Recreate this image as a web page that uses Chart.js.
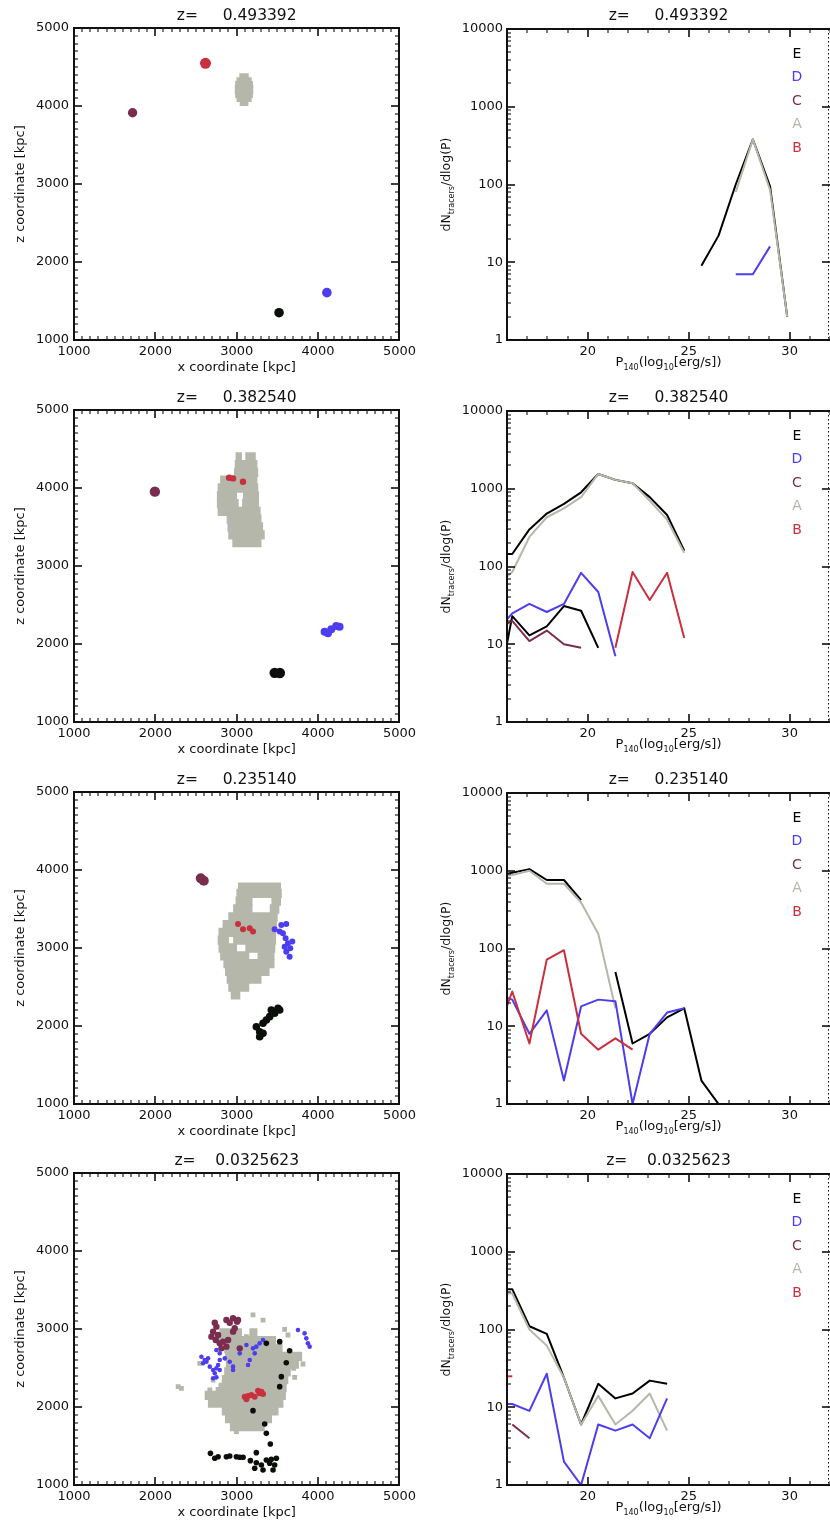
<!DOCTYPE html>
<html>
<head>
<meta charset="utf-8">
<title>Tracer clouds and radio power distributions</title>
<script src="https://cdn.jsdelivr.net/npm/chart.js@4.4.1/dist/chart.umd.min.js"></script>
<style>
  body { margin: 0; background: #fff; }
  #page { position: relative; width: 830px; height: 1527px; overflow: hidden; }
  canvas { position: absolute; }
</style>
</head>
<body>
<div id="page"></div>
<script>
const _ = null;

// one row per redshift snapshot
const rowTitles = ['z=     0.493392', 'z=     0.382540', 'z=     0.235140', 'z=    0.0325623'];
const legendNames = ['E', 'D', 'C', 'A', 'B'];

// ---- left column: tracer positions (x, z) in kpc
const mapTicks = [1000, 2000, 3000, 4000, 5000];

// A cloud, stored as horizontal runs: [z, x from, x to]
const mapA = [
  [[4060, 3041, 3139], [4110, 3002, 3178], [4160, 2985, 3195], [4210, 2980, 3200], [4260, 2985, 3195],
   [4310, 3000, 3180], [4360, 3036, 3144]],
  [[4400, 2990, 3060], [4400, 3110, 3230], [4300, 2980, 3250], [4200, 2970, 3260], [4100, 2800, 3250],
   [4000, 2770, 3260], [3900, 2760, 3000], [3900, 3080, 3270], [3800, 2760, 3020], [3800, 3070, 3270],
   [3700, 2770, 3290], [3600, 2880, 3300], [3500, 2890, 3320], [3400, 2900, 3340], [3300, 2950, 3300]],
  [[3780, 3020, 3540], [3700, 3000, 3550], [3600, 2990, 3190], [3600, 3430, 3540], [3500, 2960, 3190],
   [3500, 3410, 3520], [3400, 2900, 3500], [3300, 2830, 3490], [3200, 2780, 3480], [3100, 2770, 2900],
   [3100, 2960, 3480], [3000, 2780, 3000], [3000, 3110, 3470], [2900, 2800, 3150], [2900, 3260, 3460],
   [2800, 2840, 3460], [2700, 2860, 3400], [2600, 2880, 3300], [2500, 2900, 3150], [2400, 2930, 3040]],
  [[2950, 2790, 3060], [2950, 3160, 3250], [2850, 2760, 3480], [2750, 2850, 3560], [2650, 2860, 3800],
   [2550, 2870, 3760], [2450, 2850, 3660], [2350, 2820, 3630], [2250, 2780, 3610], [2150, 2610, 3600],
   [2050, 2650, 3570], [1950, 2820, 3510], [1850, 2860, 3430], [1750, 2920, 3340]]
];
// loose A tracers outside the main cloud
const mapAloose = [
  [], [], [],
  [[3200, 3180], [3323, 3115], [3589, 2996], [3630, 2923], [3700, 2496], [3814, 2551], [3712, 2380],
   [2280, 2261], [2320, 2240], [2669, 2218], [2771, 2226], [2546, 2560], [2710, 2346], [2996, 1684], [3119, 2902]]
];
const mapB = [
  [[2616, 4547]],
  [[2906, 4132], [2955, 4123], [3077, 4081]],
  [[3016, 3308], [3077, 3240], [3159, 3252], [3200, 3210]],
  [[3098, 2132], [3139, 2141], [3180, 2154], [3221, 2132], [3119, 2098], [3262, 2209], [3303, 2197], [3323, 2167], [3282, 2175]]
];
const mapC = [
  [[1720, 3914]],
  [[1994, 3953]],
  [[2558, 3893], [2595, 3863]],
  [[2730, 3081], [2750, 3030], [2710, 2966], [2689, 2902], [2742, 2859], [2791, 2816], [2832, 2838], [2873, 3115],
   [2914, 3081], [2955, 3137], [3004, 3094], [2975, 3009], [2955, 2966], [3016, 3115], [2812, 2752], [2873, 2774],
   [3037, 2752], [2771, 2923], [2894, 2859]]
];
const mapD = [
  [[4108, 1607]],
  [[4080, 2158], [4121, 2137], [4162, 2188], [4223, 2231], [4264, 2222]],
  [[3466, 3240], [3548, 3295], [3609, 3308], [3568, 3189], [3601, 3124], [3630, 3060], [3683, 3082], [3658, 2996],
   [3609, 2953], [3650, 2889], [3589, 3017], [3528, 3210]],
  [[2566, 2645], [2607, 2603], [2648, 2624], [2587, 2560], [2628, 2581], [2669, 2517], [2710, 2474], [2750, 2496],
   [2771, 2538], [2730, 2432], [2791, 2474], [2750, 2380], [2710, 2368], [2914, 2581], [2955, 2517], [2791, 2603],
   [2853, 2624], [3037, 2688], [3119, 2795], [3200, 2752], [3241, 2774], [3282, 2816], [3323, 2859], [3221, 2688],
   [3160, 2603], [3139, 2538], [3753, 2987], [3834, 2944], [3855, 2880], [3875, 2816], [3896, 2774], [2955, 2474],
   [2750, 2731], [2791, 2688]]
];
const mapE = [
  [[3520, 1350]],
  [[3466, 1630], [3530, 1628]],
  [[3282, 1927], [3241, 1991], [3323, 2035], [3405, 2120], [3466, 2163], [3528, 2205], [3425, 2205], [3323, 1906],
   [3282, 1863], [3364, 2077], [3507, 2227]],
  [[3364, 2816], [3528, 2838], [3650, 2722], [3609, 2568], [3548, 2389], [3528, 2261], [3200, 1953], [3344, 1782],
   [3364, 1662], [3413, 1526], [3241, 1415], [2677, 1406], [2771, 1363], [2873, 1363], [2996, 1363], [3078, 1355],
   [3168, 1312], [3241, 1286], [3303, 1256], [3364, 1321], [3405, 1278], [3446, 1192], [3425, 1329], [3487, 1342],
   [3221, 1214], [3323, 1192], [2730, 1342], [2914, 1372], [3037, 1355], [3466, 1256]]
];

// ---- right column: dN_tracers/dlog(P) against P140 bins
const powerBins = [15.41, 16.26, 17.11, 17.97, 18.82, 19.67, 20.52, 21.37, 22.22, 23.07, 23.93, 24.78, 25.63, 26.48, 27.33, 28.18, 29.03, 29.88];
const powerTicks = [20, 25, 30];
const countTicks = [1, 10, 100, 1000, 10000];

const specAll = [
  [_, _, _, _, _, _, _, _, _, _, _, _, 9, 22, 100, 380, 95, 2],
  [145, 145, 300, 480, 640, 900, 1550, 1300, 1180, 780, 460, 160],
  [870, 940, 1050, 760, 760, 420, _, 50, 6, 8, 13, 17, 2, 1, 0.5],
  [330, 330, 110, 88, 24, 6, 20, 13, 15, 22, 20]
];
const specA = [
  [_, _, _, _, _, _, _, _, _, _, _, _, _, _, 80, 380, 85, 2],
  [55, 85, 240, 430, 560, 780, 1550, 1300, 1180, 700, 400, 150],
  [820, 880, 1000, 680, 680, 390, 155, 17],
  [300, 290, 100, 62, 24, 6, 14, 6, 9, 15, 5]
];
const specB = [
  [],
  [_, _, _, _, _, _, _, 9, 85, 37, 83, 12],
  [7, 28, 6, 72, 95, 8, 5, 7, 5],
  [25, 25]
];
const specC = [
  [],
  [15, 20, 11, 15, 10, 9],
  [],
  [_, 6, 4]
];
const specD = [
  [_, _, _, _, _, _, _, _, _, _, _, _, _, _, 7, 7, 16],
  [14, 25, 33, 26, 33, 83, 47, 7],
  [26, 22, 8, 16, 2, 18, 22, 21, 1, 8, 15, 17],
  [11, 11, 9, 27, 2, 1, 6, 5, 6, 4, 13]
];
const specE = [
  [],
  [1.6, 23, 13, 17, 31, 27, 9],
  [],
  []
];

// styles
const colors = { E: '#0a0f0a', D: '#4d3df0', C: '#7a2d4e', A: '#b5b7aa', B: '#c8303e' };
const dotRadius = [
  { B: 5.5, C: 4.7, D: 4.8, E: 4.8 },
  { B: 3.2, C: 5.2, D: 4, E: 5.2 },
  { B: 3, C: 5, D: 3, E: 3.8 },
  { B: 3, C: 3.2, D: 2.3, E: 2.8 }
];
const rowTop = [0, 382, 764, 1145];

Chart.defaults.font.family = '"DejaVu Sans", sans-serif';
Chart.defaults.color = '#111';

const page = document.getElementById('page');
function addCanvas(left, top, w, h) {
  const c = document.createElement('canvas');
  c.width = w; c.height = h;
  c.style.left = left + 'px'; c.style.top = top + 'px';
  c.style.width = w + 'px'; c.style.height = h + 'px';
  page.appendChild(c);
  return c;
}

// inward IDL style ticks and frame
function framePlugin(o) {
  return {
    id: 'frame' + Math.random().toString(36).slice(2),
    afterDraw(chart) {
      const { ctx, chartArea: a } = chart;
      const L = Math.round(a.left), R = Math.round(a.right), T = Math.round(a.top), B = Math.round(a.bottom);
      // tick positions along each side, as fractions of the axis span
      const fx = v => (v - o.xMin) / (o.xMax - o.xMin);
      const fy = v => o.yLog ? Math.log10(v / o.yMin) / Math.log10(o.yMax / o.yMin) : (v - o.yMin) / (o.yMax - o.yMin);
      ctx.save();
      ctx.fillStyle = '#111';
      const xt = (vals, len, w) => vals.forEach(v => {
        const p = Math.round(L + fx(v) * (R - L));
        ctx.fillRect(p - w / 2, B - len, w, len);
        ctx.fillRect(p - w / 2, T, w, len);
      });
      const yt = (vals, len, w, both) => vals.forEach(v => {
        const p = Math.round(B - fy(v) * (B - T));
        ctx.fillRect(L, p - w / 2, len, w);
        if (both) ctx.fillRect(R - len, p - w / 2, len, w);
      });
      xt(o.xMajor, 8, 1.6); xt(o.xMinor, 4, 1.1);
      yt(o.yMajor, 8, 1.6, true); yt(o.yMinor, 4, 1.1, o.rightMinor);
      // frame
      ctx.fillRect(L - 1, T - 1, R - L + 2, 2);
      ctx.fillRect(L - 1, B - 1, R - L + 2, 2);
      ctx.fillRect(L - 1, T - 1, 2, B - T + 2);
      if (o.dottedRight) {
        for (let y = T; y < B; y += 4) ctx.fillRect(R - 2, y, 1, 1.6);
      } else {
        ctx.fillRect(R - 1, T - 1, 2, B - T + 2);
      }
      ctx.restore();
    }
  };
}

function richText(ctx, parts, x, y, size, rotate) {
  ctx.save();
  ctx.translate(x, y);
  if (rotate) ctx.rotate(-Math.PI / 2);
  const main = size + 'px "DejaVu Sans"';
  const sub = Math.round(size * 0.65) + 'px "DejaVu Sans"';
  let w = 0;
  parts.forEach(p => { ctx.font = p[1] ? sub : main; w += ctx.measureText(p[0]).width; });
  let cx = -w / 2;
  ctx.textAlign = 'left';
  ctx.textBaseline = 'alphabetic';
  parts.forEach(p => {
    ctx.font = p[1] ? sub : main;
    ctx.fillText(p[0], cx, p[1] ? size * 0.68 : size * 0.36);
    cx += ctx.measureText(p[0]).width;
  });
  ctx.restore();
}

function textPlugin(o) {
  return {
    id: 'text' + Math.random().toString(36).slice(2),
    afterDraw(chart) {
      const { ctx, chartArea: a } = chart;
      ctx.save();
      ctx.fillStyle = '#111';
      ctx.textAlign = 'center';
      ctx.textBaseline = 'middle';
      ctx.font = '15.5px "DejaVu Sans"';
      ctx.fillText(o.title, (a.left + a.right) / 2, 16);
      if (o.legend) {
        ctx.font = '14px "DejaVu Sans"';
        legendNames.forEach((n, i) => {
          ctx.fillStyle = n === 'E' ? '#000' : colors[n];
          ctx.fillText(n, 377, a.top + 25 + i * 23.6);
        });
        ctx.fillStyle = '#111';
        richText(ctx, [['dN'], ['tracers', 1], ['/dlog(P)']], 25, (a.top + a.bottom) / 2, 12.5, true);
        richText(ctx, [['P'], ['140', 1], ['(log'], ['10', 1], ['[erg/s])']], (a.left + a.right) / 2, 361, 13, false);
      }
      ctx.restore();
    }
  };
}

function mapChart(r) {
  const canvas = addCanvas(0, rowTop[r], 420, 380);
  const dot = dotRadius[r];
  const cloud = (pts, color, radius, style) => ({
    type: 'scatter',
    data: pts.map(p => ({ x: p[0], y: p[1] })),
    backgroundColor: color, borderWidth: 0,
    pointRadius: radius, pointHoverRadius: radius, pointStyle: style || 'circle'
  });
  const minor = [];
  for (let v = 1000; v <= 5000; v += 100) if (v % 1000) minor.push(v);
  new Chart(canvas, {
    type: 'scatter',
    data: {
      datasets: [
        cloud(mapB[r], colors.B, dot.B),
        cloud(mapE[r], colors.E, dot.E),
        cloud(mapD[r], colors.D, dot.D),
        cloud(mapC[r], colors.C, dot.C),
        cloud(mapAloose[r], colors.A, 3.4, 'rect'),
        {
          type: 'bar', indexAxis: 'y',
          data: mapA[r].map(s => ({ y: s[0], x: [s[1], s[2]] })),
          backgroundColor: colors.A, borderWidth: 0, barThickness: 8.6
        }
      ]
    },
    options: {
      responsive: false, animation: false, devicePixelRatio: 1,
      layout: { padding: { top: 28, right: 20, left: 0, bottom: 0 } },
      plugins: { legend: { display: false }, tooltip: { enabled: false } },
      scales: {
        x: {
          type: 'linear', min: 1000, max: 5000, offset: false,
          grid: { display: false, drawTicks: false, offset: false }, border: { display: false },
          afterBuildTicks: s => { s.ticks = mapTicks.map(v => ({ value: v })); },
          afterFit: s => { s.height = 40; },
          ticks: { font: { size: 13 }, padding: 4, maxRotation: 0, autoSkip: false, callback: v => String(v) },
          title: { display: true, text: 'x coordinate [kpc]', font: { size: 13 }, padding: { top: 0, bottom: 5 } }
        },
        y: {
          type: 'linear', min: 1000, max: 5000, offset: false,
          grid: { display: false, drawTicks: false, offset: false }, border: { display: false },
          afterBuildTicks: s => { s.ticks = mapTicks.map(v => ({ value: v })); },
          afterFit: s => { s.width = 74; },
          ticks: { font: { size: 13 }, padding: 5, autoSkip: false, callback: v => String(v) },
          title: { display: true, text: 'z coordinate [kpc]', font: { size: 13 }, padding: { top: 13, bottom: 0 } }
        }
      }
    },
    plugins: [
      framePlugin({ xMin: 1000, xMax: 5000, yMin: 1000, yMax: 5000,
        xMajor: mapTicks, xMinor: minor, yMajor: mapTicks, yMinor: minor, rightMinor: true }),
      textPlugin({ title: rowTitles[r] })
    ]
  });
}

function specChart(r) {
  const canvas = addCanvas(420, rowTop[r], 410, 380);
  const line = (vals, color) => ({
    data: vals.map((v, i) => ({ x: powerBins[i], y: v })),
    borderColor: color, backgroundColor: color, borderWidth: 2, borderJoinStyle: 'round',
    pointRadius: 0, pointHoverRadius: 0, showLine: true, spanGaps: false, fill: false
  });
  const xMinor = [];
  for (let v = 16; v <= 32; v++) if (v % 5) xMinor.push(v);
  const yMinor = [];
  [1, 10, 100, 1000].forEach(d => { for (let k = 2; k < 10; k++) yMinor.push(d * k); });
  new Chart(canvas, {
    type: 'scatter',
    data: {
      datasets: [
        line(specB[r], colors.B), line(specD[r], colors.D), line(specA[r], colors.A),
        line(specC[r], colors.C), line(specE[r], '#000'), line(specAll[r], '#000')
      ]
    },
    options: {
      responsive: false, animation: false, devicePixelRatio: 1,
      layout: { padding: { top: 29, right: 0, left: 0, bottom: 0 } },
      plugins: { legend: { display: false }, tooltip: { enabled: false } },
      scales: {
        x: {
          type: 'linear', min: 16, max: 32,
          grid: { display: false, drawTicks: false }, border: { display: false },
          afterBuildTicks: s => { s.ticks = powerTicks.map(v => ({ value: v })); },
          afterFit: s => { s.height = 40; },
          ticks: { font: { size: 13 }, padding: 4, maxRotation: 0, autoSkip: false, callback: v => String(v) }
        },
        y: {
          type: 'logarithmic', min: 1, max: 10000,
          grid: { display: false, drawTicks: false }, border: { display: false },
          afterBuildTicks: s => { s.ticks = countTicks.map(v => ({ value: v })); },
          afterFit: s => { s.width = 87; },
          ticks: { font: { size: 13 }, padding: 4, autoSkip: false, callback: v => String(v) }
        }
      }
    },
    plugins: [
      framePlugin({ xMin: 16, xMax: 32, yMin: 1, yMax: 10000, yLog: true,
        xMajor: powerTicks, xMinor: xMinor, yMajor: countTicks, yMinor: yMinor, rightMinor: false, dottedRight: true }),
      textPlugin({ title: rowTitles[r], legend: true })
    ]
  });
}

for (let r = 0; r < 4; r++) { mapChart(r); specChart(r); }
</script>
</body>
</html>
